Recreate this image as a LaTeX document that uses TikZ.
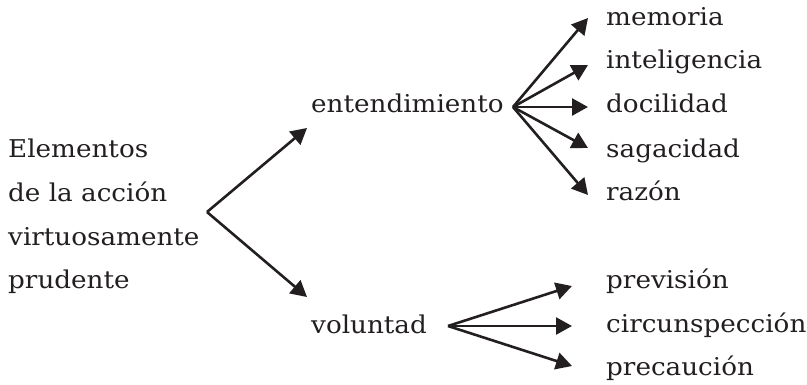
\documentclass[tikz,border=0pt]{standalone}
\usepackage{fontspec}
\setmainfont[FakeStretch=1.07]{DejaVu Serif}
\usetikzlibrary{arrows.meta}
\definecolor{ink}{HTML}{231F20}
\tikzset{
  lbl/.style={anchor=base west, inner sep=0pt, text=ink,
    font=\fontsize{24.5}{24.5}\selectfont},
  arr/.style={draw=ink, line width=2.6pt,
    -{Triangle[length=16pt, width=17pt]}},
}
\begin{document}
\begin{tikzpicture}[x=1pt, y=-1pt]
  \useasboundingbox (0,0) rectangle (807,384);

  % root label, four lines
  \node[lbl] (l1) at (8,157) {Elementos};
  \node[lbl] (l2) at (8,201) {de la acción};
  \node[lbl] (l3) at (8,245) {virtuosamente};
  \node[lbl] (l4) at (8,288) {prudente};

  % second level
  \node[lbl] (ent) at (311,112) {entendimiento};
  \node[lbl] (vol) at (311,333) {voluntad};

  % leaves of entendimiento
  \node[lbl] (mem) at (606,25)  {memoria};
  \node[lbl] (int) at (606,68)  {inteligencia};
  \node[lbl] (doc) at (606,112) {docilidad};
  \node[lbl] (sag) at (606,157) {sagacidad};
  \node[lbl] (raz) at (606,200) {razón};

  % leaves of voluntad
  \node[lbl] (pre) at (606,288) {previsión};
  \node[lbl] (cir) at (606,332) {circunspección};
  \node[lbl] (pca) at (606,375) {precaución};

  % fork points and arrow tips
  \coordinate (rootfork) at (207,212);
  \coordinate (entin)    at (307,128);
  \coordinate (volin)    at (307,297);
  \coordinate (entfork)  at (513,107);
  \coordinate (volfork)  at (448,326);
  \coordinate (tmem) at (588,18);
  \coordinate (tint) at (588,65);
  \coordinate (tdoc) at (588,107);
  \coordinate (tsag) at (588,148);
  \coordinate (traz) at (588,195);
  \coordinate (tpre) at (572,286);
  \coordinate (tcir) at (572,326);
  \coordinate (tpca) at (572,366);

  \draw[arr] (rootfork) -- (entin);
  \draw[arr] (rootfork) -- (volin);
  \foreach \t in {tmem,tint,tdoc,tsag,traz}
    \draw[arr] (entfork) -- (\t);
  \foreach \t in {tpre,tcir,tpca}
    \draw[arr] (volfork) -- (\t);
\end{tikzpicture}
\end{document}
